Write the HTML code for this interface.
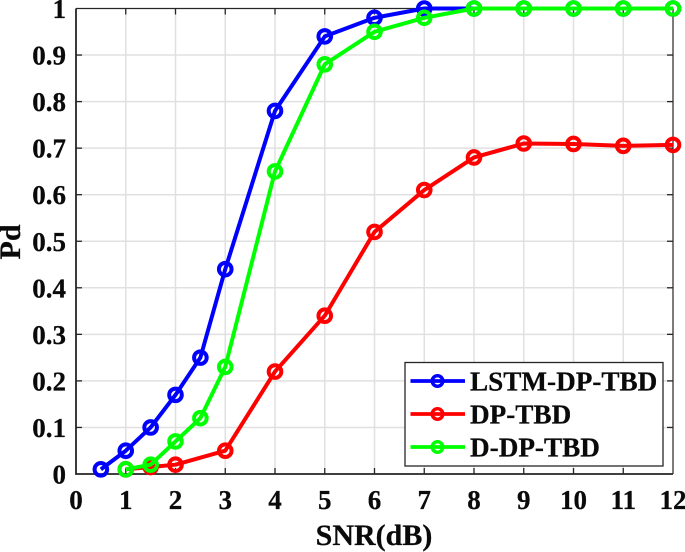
<!DOCTYPE html>
<html>
<head>
<meta charset="utf-8">
<style>
html,body{margin:0;padding:0;background:#fff;width:685px;height:552px;overflow:hidden}
svg{display:block}
text{font-family:"Liberation Serif",serif;font-weight:bold;fill:#0a0a0a;stroke:#0a0a0a;stroke-width:0.25px}
</style>
</head>
<body>
<svg id="chart" width="685" height="552" viewBox="0 0 685 552" xmlns="http://www.w3.org/2000/svg"></svg>
<script>
const xTicks = [0,1,2,3,4,5,6,7,8,9,10,11,12];
const yTicks = [0,0.1,0.2,0.3,0.4,0.5,0.6,0.7,0.8,0.9,1];
const yTickLabels = ['0','0.1','0.2','0.3','0.4','0.5','0.6','0.7','0.8','0.9','1'];
const lstmX = [0.5,1,1.5,2,2.5,3,4,5,6,7,8,9,10,11,12];
const lstmY = [0.01,0.05,0.1,0.17,0.25,0.44,0.78,0.94,0.98,1,1,1,1,1,1];
const dpX = [1,1.5,2,3,4,5,6,7,8,9,10,11,12];
const dpY = [0.01,0.015,0.02,0.05,0.22,0.34,0.52,0.61,0.68,0.71,0.709,0.705,0.707];
const ddpX = [1,1.5,2,2.5,3,4,5,6,7,8,9,10,11,12];
const ddpY = [0.01,0.02,0.07,0.12,0.23,0.65,0.88,0.95,0.98,1,1,1,1,1];
const seriesNames = ['LSTM-DP-TBD','DP-TBD','D-DP-TBD'];

const NS = 'http://www.w3.org/2000/svg';
const svg = document.getElementById('chart');
const sx = v => 76 + v * 49.75;
const sy = v => 474 - v * 465.5;
function mk(tag, attrs, parent, text) {
  const el = document.createElementNS(NS, tag);
  for (const k in attrs) el.setAttribute(k, attrs[k]);
  if (text !== undefined) el.textContent = text;
  (parent || svg).appendChild(el);
  return el;
}

const grid = mk('g', {stroke:'#e0e0e0','stroke-width':1.5,fill:'none'});


xTicks.slice(1,-1).forEach(t => {
  const l = mk('line', {x1:sx(t),x2:sx(t),y1:sy(0),y2:sy(1)}, grid);
  
  
});
yTicks.slice(1,-1).forEach(t => {
  const l = mk('line', {x1:sx(0),x2:sx(12),y1:sy(t),y2:sy(t)}, grid);
  
  
});

const axes = mk('g', {stroke:'#262626',fill:'none'});


const frame = mk('path', {d:`M${sx(0)} ${sy(1)}H${sx(12)}M${sx(12)} ${sy(1)}V${sy(0)}`, 'stroke-width':1.2}, axes);


const axisLines = mk('path', {d:`M${sx(0)} ${sy(1)}V${sy(0)}H${sx(12)}`, 'stroke-width':1.8}, axes);


xTicks.slice(1,-1).forEach(t => {
  const a = mk('line', {x1:sx(t),x2:sx(t),y1:sy(0),y2:sy(0)-6,'stroke-width':1.3}, axes);
  
  
  const b = mk('line', {x1:sx(t),x2:sx(t),y1:sy(1),y2:sy(1)+6,'stroke-width':1.3}, axes);
  
  
});
yTicks.slice(1,-1).forEach(t => {
  const a = mk('line', {x1:sx(0),x2:sx(0)+6,y1:sy(t),y2:sy(t),'stroke-width':1.3}, axes);
  
  
  const b = mk('line', {x1:sx(12),x2:sx(12)-6,y1:sy(t),y2:sy(t),'stroke-width':1.3}, axes);
  
  
});

function drawSeries(xs, ys, color, name) {
  const g = mk('g', {fill:'none',stroke:color});
  
  
  const line = mk('polyline', {points:xs.map((x,i)=>sx(x)+','+sy(ys[i])).join(' '),'stroke-width':4,'stroke-linejoin':'round'}, g);
  
  
  xs.forEach((x,i) => {
    const c = mk('circle', {cx:sx(x),cy:sy(ys[i]),r:6.3,'stroke-width':4}, g);
    
    
  });
}
drawSeries(lstmX, lstmY, '#0000ff', 'series-lstm-dp-tbd');
drawSeries(dpX, dpY, '#ff0000', 'series-dp-tbd');
drawSeries(ddpX, ddpY, '#00ff00', 'series-d-dp-tbd');

xTicks.forEach(t => {
  const el = mk('text', {x:sx(t),y:509,'text-anchor':'middle','font-size':27}, svg, String(t));
  
  
});
yTicks.forEach((t,i) => {
  const el = mk('text', {x:66,y:sy(t)+9.5,'text-anchor':'end','font-size':27}, svg, yTickLabels[i]);
  
  
});

const xTitle = mk('text', {x:374,y:545,'text-anchor':'middle','font-size':30}, svg, 'SNR(dB)');


const yTitle = mk('text', {x:0,y:0,'text-anchor':'middle','font-size':30,transform:'translate(20,242) rotate(-90)'}, svg, 'Pd');



const legend = mk('g', {});


const box = mk('rect', {x:405,y:362.5,width:258,height:103.5,fill:'#fff',stroke:'#262626','stroke-width':1.3}, legend);


const legendColors = ['#0000ff','#ff0000','#00ff00'];
seriesNames.forEach((n,i) => {
  const yy = 381 + i * 33;
  const e = mk('g', {}, legend);
  
  
  const l = mk('line', {x1:410.5,x2:465,y1:yy,y2:yy,stroke:legendColors[i],'stroke-width':3.8}, e);
  
  
  const c = mk('circle', {cx:437.5,cy:yy,r:5.3,fill:'none',stroke:legendColors[i],'stroke-width':3.4}, e);
  
  
  const t = mk('text', {x:470,y:yy+9.7,'font-size':27.2}, e, n);
  
  
});
</script>
</body>
</html>
